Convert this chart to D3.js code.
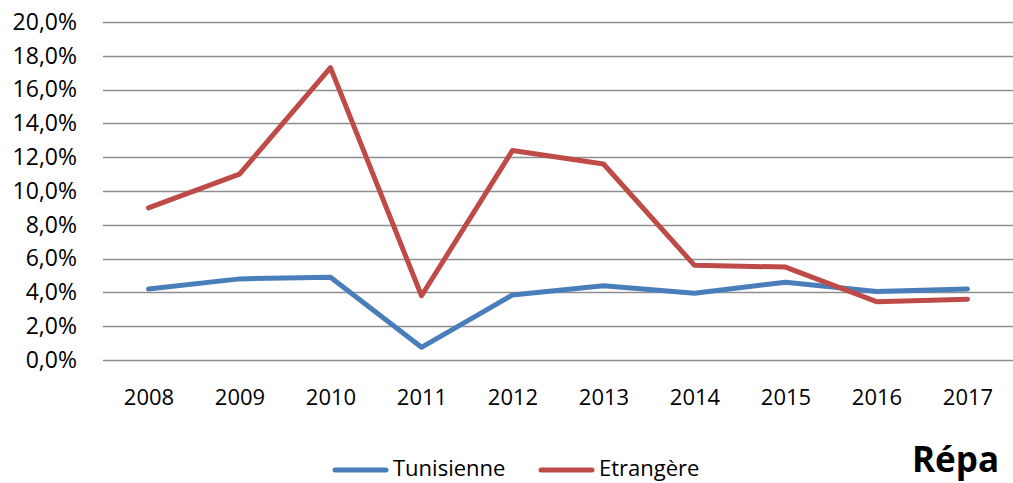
<!DOCTYPE html>
<html>
<head>
<meta charset="utf-8">
<script src="https://cdn.jsdelivr.net/npm/d3@7"></script>
<style>
  body { margin: 0; background: #fff; }
  svg text { font-family: "Open Sans", "Noto Sans", sans-serif; fill: #000; }
</style>
</head>
<body>
<div id="chart"></div>
<script>
// data
var years = ["2008", "2009", "2010", "2011", "2012", "2013", "2014", "2015", "2016", "2017"];
var tunisienne = [4.2, 4.8, 4.9, 0.75, 3.85, 4.4, 3.95, 4.6, 4.05, 4.2];
var etrangere = [9.0, 11.0, 17.3, 3.8, 12.4, 11.6, 5.6, 5.5, 3.45, 3.6];
var yTicks = [0, 2, 4, 6, 8, 10, 12, 14, 16, 18, 20];
var seriesNames = ["Tunisienne", "Etrangère"];
var colors = ["#4a7ebb", "#be4b48"];

var svgWidth = 1013, svgHeight = 483;
var svg = d3.select("#chart").append("svg")
  .attr("width", svgWidth)
  .attr("height", svgHeight);

var xScale = d3.scalePoint()
  .domain(years)
  .range([103, 1013])
  .padding(0.5);

var yScale = d3.scaleLinear()
  .domain([0, 20])
  .range([360, 22]);

var fr = d3.formatLocale({ decimal: ",", thousands: " ", grouping: [3], currency: ["", " €"] });
var pct = fr.format(".1f");

// gridlines
svg.append("g")
  .selectAll("line")
  .data(yTicks)
  .join("line")
  .attr("x1", 103)
  .attr("x2", 1013)
  .attr("y1", d => Math.round(yScale(d)) + 0.5)
  .attr("y2", d => Math.round(yScale(d)) + 0.5)
  .attr("stroke", "#8e8e8e")
  .attr("stroke-width", 1.4);

// y axis labels
var yAxis = d3.axisLeft(yScale)
  .tickValues(yTicks)
  .tickSize(0)
  .tickPadding(0)
  .tickFormat(d => pct(d) + "%");

svg.append("g")
  .attr("transform", "translate(77,0)")
  .call(yAxis)
  .call(g => g.select(".domain").remove())
  .selectAll("text")
  .attr("font-size", 23)
  .attr("font-family", "'Open Sans', sans-serif")
  .attr("fill", "#000");

// x axis labels
var xAxis = d3.axisBottom(xScale).tickSize(0).tickPadding(0);
svg.append("g")
  .attr("transform", "translate(0,389)")
  .call(xAxis)
  .call(g => g.select(".domain").remove())
  .selectAll("text")
  .attr("font-size", 22)
  .attr("font-family", "'Open Sans', sans-serif")
  .attr("fill", "#000");

// lines
var line = d3.line()
  .x((d, i) => xScale(years[i]))
  .y(d => yScale(d));

[tunisienne, etrangere].forEach(function(values, k) {
  svg.append("path")
    .datum(values)
    .attr("d", line)
    .attr("fill", "none")
    .attr("stroke", colors[k])
    .attr("stroke-width", 5)
    .attr("stroke-linejoin", "round")
    .attr("stroke-linecap", "round");
});

// legend
var legendX = [335, 541];
var legend = svg.append("g");
seriesNames.forEach(function(name, k) {
  legend.append("line")
    .attr("x1", legendX[k])
    .attr("x2", legendX[k] + 51)
    .attr("y1", 470)
    .attr("y2", 470)
    .attr("stroke", colors[k])
    .attr("stroke-width", 5)
    .attr("stroke-linecap", "round");
  legend.append("text")
    .attr("x", legendX[k] + 58)
    .attr("y", 476)
    .attr("font-size", 22)
    .text(name);
});

// cut-off title fragment
svg.append("text")
  .attr("x", 912)
  .attr("y", 472)
  .attr("font-size", 35)
  .attr("font-weight", "bold")
  .text("Répa");
</script>
</body>
</html>
